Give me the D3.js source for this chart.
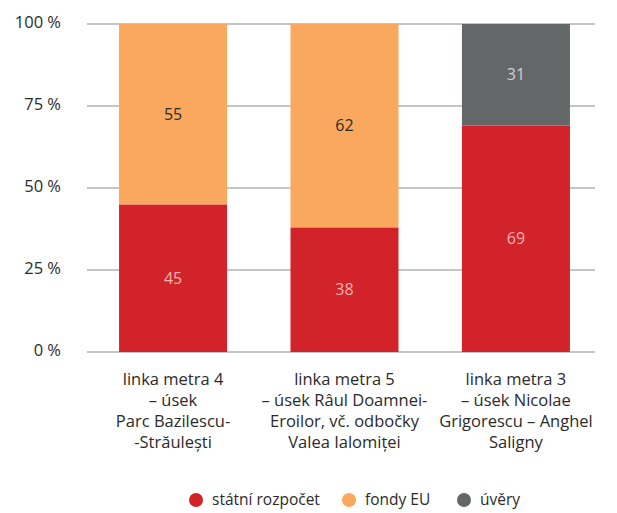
<!DOCTYPE html>
<html>
<head>
<meta charset="utf-8">
<script src="https://cdn.jsdelivr.net/npm/d3@7"></script>
<style>
  body { margin: 0; background: #fff; }
  text { font-family: "Open Sans", sans-serif; }
</style>
</head>
<body>
<div id="chart"></div>
<script>
const categories = [
    ["linka metra 4", "– úsek", "Parc Bazilescu-", "-Străulești"],
    ["linka metra 5", "– úsek Râul Doamnei-", "Eroilor, vč. odbočky", "Valea Ialomiței"],
    ["linka metra 3", "– úsek Nicolae", "Grigorescu – Anghel", "Saligny"]
]
const seriesNames = ["státní rozpočet", "fondy EU", "úvěry"]
const statniRozpocet = [45, 38, 69]
const fondyEU = [55, 62, 0]
const uvery = [0, 0, 31]
const yTicks = [0, 25, 50, 75, 100]

const width = 617
const height = 513
const margin = {top: 24, right: 22, bottom: 161, left: 87}

const colors = ["#d2232a", "#f9a85e", "#646767"]
const labelColors = ["#f6b3b3", "#2b2b2b", "#cfd0d0"]

let svg = d3.select("#chart")
    .append("svg")
    .attr("width", width)
    .attr("height", height)

// build rows for the stack
const rows = categories.map((c, i) => ({
    idx: i,
    s0: statniRozpocet[i],
    s1: fondyEU[i],
    s2: uvery[i]
}))
const stacked = d3.stack().keys(["s0", "s1", "s2"])(rows)

const x = d3.scaleBand()
    .domain(d3.range(categories.length))
    .range([margin.left, 602])
    .paddingInner(0.37)
    .paddingOuter(0.187)

const y = d3.scaleLinear()
    .domain([0, 100])
    .range([height - margin.bottom, margin.top])

// gridlines
svg.append("g")
    .selectAll("line")
    .data(yTicks)
    .join("line")
    .attr("x1", margin.left)
    .attr("x2", width - margin.right)
    .attr("y1", d => y(d))
    .attr("y2", d => y(d))
    .attr("stroke", "#c4c5c7")
    .attr("stroke-width", 2)

// y tick labels
svg.append("g")
    .selectAll("text")
    .data(yTicks)
    .join("text")
    .attr("x", 61)
    .attr("y", d => y(d) - 2)
    .attr("dy", "0.35em")
    .attr("text-anchor", "end")
    .attr("font-size", 16.5)
    .attr("fill", "#2b2b2b")
    .text(d => d + " %")

// bars
stacked.forEach((layer, si) => {
    let g = svg.append("g")
    g.selectAll("rect")
        .data(layer.filter(d => d[1] - d[0] > 0))
        .join("rect")
        .attr("x", d => x(d.data.idx))
        .attr("width", x.bandwidth())
        .attr("y", d => y(d[1]))
        .attr("height", d => y(d[0]) - y(d[1]))
        .attr("fill", colors[si])
    g.selectAll("text")
        .data(layer.filter(d => d[1] - d[0] > 0))
        .join("text")
        .attr("x", d => x(d.data.idx) + x.bandwidth() / 2)
        .attr("y", d => y((d[0] + d[1]) / 2))
        .attr("dy", "0.35em")
        .attr("text-anchor", "middle")
        .attr("font-size", 16)
        .attr("fill", labelColors[si])
        .text(d => d[1] - d[0])
})

// category labels
categories.forEach((lines, i) => {
    let t = svg.append("text")
        .attr("text-anchor", "middle")
        .attr("font-size", 16.5)
        .attr("fill", "#2b2b2b")
    lines.forEach((l, j) => {
        t.append("tspan")
            .attr("x", x(i) + x.bandwidth() / 2)
            .attr("y", 385 + j * 21)
            .text(l)
    })
})

// legend
const legendX = [196, 349, 464]
let legend = svg.append("g")
seriesNames.forEach((name, i) => {
    legend.append("circle")
        .attr("cx", legendX[i])
        .attr("cy", 500)
        .attr("r", 7)
        .attr("fill", colors[i])
    legend.append("text")
        .attr("x", legendX[i] + 16)
        .attr("y", 500)
        .attr("dy", "0.35em")
        .attr("font-size", 15.5)
        .attr("fill", "#2b2b2b")
        .text(name)
})
</script>
</body>
</html>
